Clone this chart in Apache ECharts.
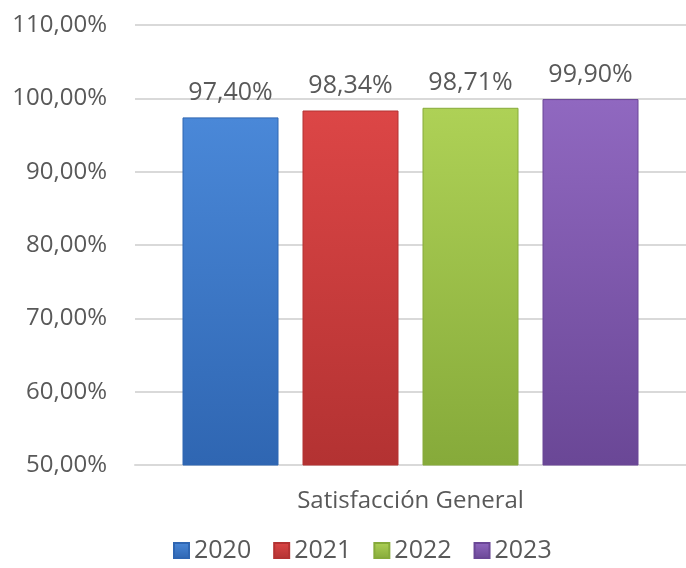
<!DOCTYPE html>
<html>
<head>
<meta charset="utf-8">
<script src="https://cdn.jsdelivr.net/npm/echarts@6/dist/echarts.min.js"></script>
<style>
  html, body { margin: 0; padding: 0; background: #fff; }
  #chart { width: 686px; height: 568px; }
</style>
</head>
<body>
<div id="chart"></div>
<script>
// data
var categories = ['Satisfacción General'];
var years = ['2020', '2021', '2022', '2023'];
var values2020 = [97.40];
var values2021 = [98.34];
var values2022 = [98.71];
var values2023 = [99.90];
var yTicks = { min: 50, max: 110, interval: 10 };

var allValues = [values2020, values2021, values2022, values2023];
var palette = [
  ['#4a88d8', '#2f66b2'],
  ['#dc4646', '#b33232'],
  ['#aed156', '#86aa3a'],
  ['#9068c0', '#6a4796']
];

var myChart = echarts.init(document.getElementById('chart'));

function fmt(v) {
  return v.toFixed(2).replace('.', ',') + '%';
}

var series = years.map(function (y, i) {
  return {
    name: y,
    type: 'bar',
    data: allValues[i],
    barWidth: 96,
    barGap: '25%',
    itemStyle: {
      color: new echarts.graphic.LinearGradient(0, 0, 0, 1, [
        { offset: 0, color: palette[i][0] },
        { offset: 1, color: palette[i][1] }
      ]),
      borderColor: palette[i][1],
      borderWidth: 1
    },
    label: {
      show: true,
      position: 'top',
      distance: 12,
      color: '#595959',
      fontSize: 25,
      fontFamily: 'Open Sans',
      formatter: function (p) { return fmt(p.value); }
    }
  };
});

var option = {
  animation: false,
  color: palette.map(function (p) { return p[0]; }),
  grid: { left: 135, right: 0, top: 25, bottom: 103 },
  legend: {
    data: years,
    left: 168,
    bottom: 0,
    icon: 'rect',
    itemWidth: 15,
    itemHeight: 15,
    itemGap: 22,
    textStyle: { color: '#595959', fontSize: 25, fontFamily: 'Open Sans' }
  },
  xAxis: {
    type: 'category',
    data: categories,
    axisLine: { lineStyle: { color: '#d9d9d9', width: 2 } },
    axisTick: { show: false },
    axisLabel: { color: '#595959', fontSize: 24, fontFamily: 'Open Sans', margin: 24 }
  },
  yAxis: {
    type: 'value',
    min: yTicks.min,
    max: yTicks.max,
    interval: yTicks.interval,
    axisLine: { show: false },
    axisTick: { show: false },
    splitLine: { lineStyle: { color: '#d9d9d9', width: 2 } },
    axisLabel: {
      color: '#595959',
      fontSize: 24,
      fontFamily: 'Open Sans',
      margin: 28,
      formatter: function (v) { return fmt(v); }
    }
  },
  series: series
};

myChart.setOption(option);
</script>
</body>
</html>
